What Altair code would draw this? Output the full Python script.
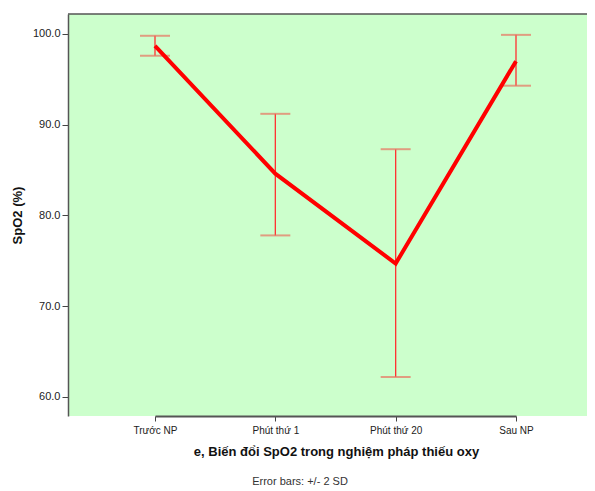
import altair as alt
import pandas as pd

categories = ["Trước NP", "Phút thứ 1", "Phút thứ 20", "Sau NP"]
means = [98.7, 84.6, 74.7, 97.0]
upper = [99.8, 91.2, 87.3, 99.9]
lower = [97.6, 77.8, 62.2, 94.3]
y_ticks = [60, 70, 80, 90, 100]

df = pd.DataFrame({"cat": categories, "mean": means, "hi": upper, "lo": lower})

W, H = 519, 402
FONT = "Liberation Sans"

xenc = alt.X("cat:N", sort=categories,
             scale=alt.Scale(type="point", range=[87, 448], padding=0),
             axis=alt.Axis(title="e, Biến đổi SpO2 trong nghiệm pháp thiếu oxy",
                           labelAngle=0, labelFontSize=10, labelColor="#222",
                           titleFontSize=13, titleFontWeight="bold", titleColor="#111",
                           titleX=268, titlePadding=10, labelPadding=4,
                           tickSize=5, tickColor="#444", domainColor="#555", domainWidth=2))
yscale = alt.Scale(domain=[57.9, 102.2], nice=False, zero=False)
yaxis = alt.Axis(title="SpO2 (%)", values=y_ticks, format=".1f", grid=False,
                 labelFontSize=11, labelColor="#222", titleFontSize=13,
                 titleFontWeight="bold", titleColor="#111", titlePadding=8,
                 tickSize=6, tickColor="#444", domainColor="#555", domainWidth=1.5,
                 labelPadding=2)

base = alt.Chart(df)

stem = base.mark_rule(color="#ff3030", strokeWidth=1.3).encode(
    x=xenc, y=alt.Y("lo:Q", scale=yscale, axis=yaxis), y2="hi:Q")
cap_hi = base.mark_tick(color="#e8735f", thickness=2, size=30, orient="horizontal").encode(
    x=alt.X("cat:N", sort=categories), y=alt.Y("hi:Q"))
cap_lo = base.mark_tick(color="#e8735f", thickness=2, size=30, orient="horizontal").encode(
    x=alt.X("cat:N", sort=categories), y=alt.Y("lo:Q"))
line = base.mark_line(color="#ff0000", strokeWidth=4).encode(
    x=alt.X("cat:N", sort=categories), y=alt.Y("mean:Q"))
top_border = alt.Chart(pd.DataFrame({"a": [0]})).mark_rule(color="#555", strokeWidth=1.5).encode(
    x=alt.value(0), x2=alt.value(W), y=alt.value(0))
caption = alt.Chart(pd.DataFrame({"t": ["Error bars: +/- 2 SD"]})).mark_text(
    font=FONT, fontSize=11, color="#333", align="center", baseline="middle").encode(
    text="t:N", x=alt.value(232), y=alt.value(468))

chart = alt.layer(stem, cap_hi, cap_lo, line, top_border, caption).properties(
    width=W, height=H,
    autosize=alt.AutoSizeParams(type="none"),
    padding={"left": 60, "top": 6, "right": 0, "bottom": 72},
).configure_view(fill="#ccffcc", stroke=None).configure_axis(
    labelFont=FONT, titleFont=FONT).configure_text(font=FONT)

chart.save("out.html", embed_options={"renderer": "svg", "actions": False})
